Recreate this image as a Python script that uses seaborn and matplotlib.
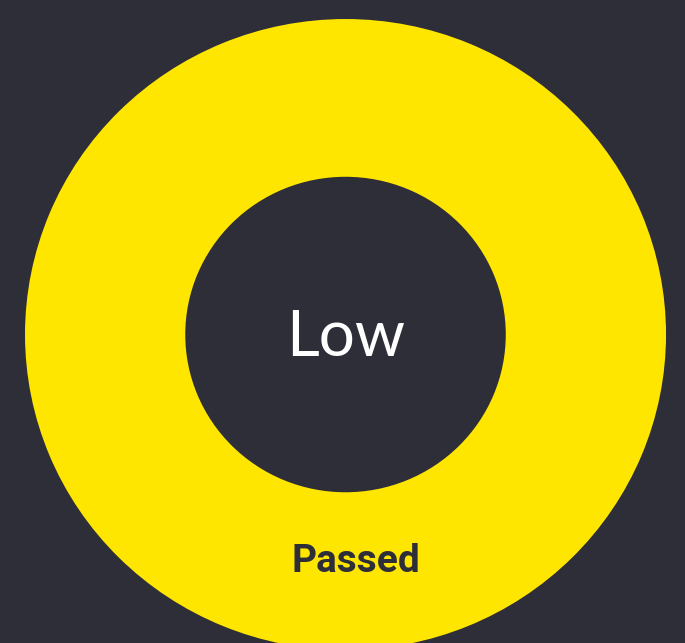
import matplotlib
matplotlib.use("Agg")
import matplotlib.pyplot as plt
import seaborn as sns

# data
status_labels = ["Passed"]
status_values = [1]
risk_level = "Low"

# colours
bg_color = "#2E2E38"
ring_color = "#FFE600"

sns.set_theme(style="white")
plt.rcParams["font.family"] = ["Lato", "DejaVu Sans"]

fig = plt.figure(figsize=(6.85, 6.43), dpi=100)
fig.patch.set_facecolor(bg_color)

# axes placed so the ring is cut off at the bottom like the original
ax = fig.add_axes([0.0365, -0.0109, 0.9358, 0.9813])
ax.set_facecolor(bg_color)

ax.pie(
    status_values,
    colors=[ring_color],
    radius=1.0,
    startangle=90,
    wedgeprops=dict(width=0.5, linewidth=0, antialiased=True),
)
ax.set_aspect("auto")
ax.set_xlim(-1, 1)
ax.set_ylim(-1, 1)
ax.axis("off")

# centre text
ax.text(0, -0.01, risk_level, ha="center", va="center",
        color="white", fontsize=46, fontweight="normal")

# wedge label
ax.text(0.033, -0.718, status_labels[0], ha="center", va="center",
        color=bg_color, fontsize=28, fontweight="bold",
        family=["Roboto", "DejaVu Sans"])

fig.savefig("out.png", dpi=100, facecolor=bg_color)
